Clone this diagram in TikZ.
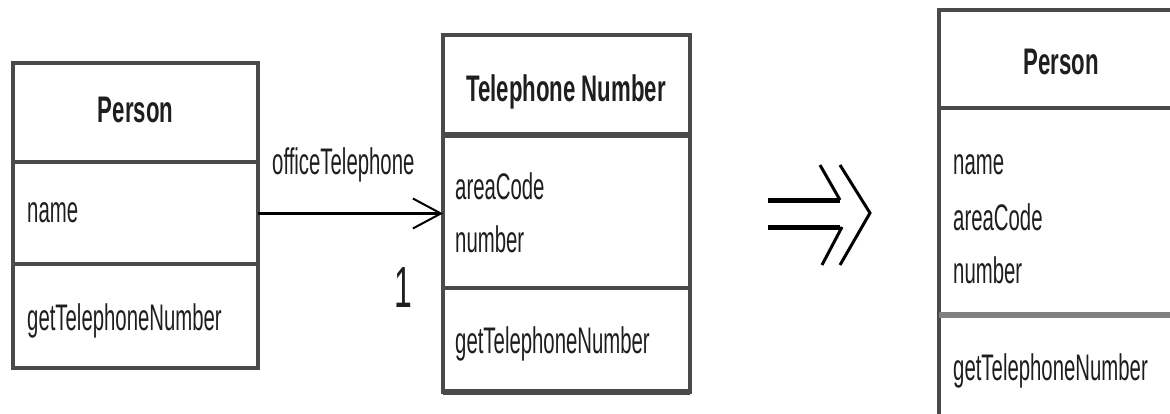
\documentclass[tikz,border=0pt]{standalone}
\usepackage{fontspec}
\setmainfont{Liberation Sans}[FakeStretch=0.55]
\newfontfamily\titlefont{Liberation Sans}[FakeStretch=0.6]
\usetikzlibrary{arrows.meta}
\definecolor{bordergray}{HTML}{4A4A4A}
\definecolor{txt}{HTML}{1E1E1E}
\begin{document}
\begin{tikzpicture}[x=1pt,y=-1pt,
  classbox/.style={draw=bordergray, line width=3.5pt, outer sep=0pt, inner sep=0pt},
  divider/.style={draw=bordergray, line width=3.5pt},
  thickdivider/.style={draw=bordergray, line width=5.5pt},
  member/.style={anchor=base west, inner sep=0pt, text=txt, font=\fontsize{37}{44}\selectfont},
  classtitle/.style={anchor=base, inner sep=0pt, text=txt, font=\fontsize{37}{44}\selectfont\titlefont\bfseries},
  assoc/.style={line width=3pt, black, -{Straight Barb[length=28pt,width=30pt,line width=2pt]}},
  implies/.style={line width=3pt, black}
]
\useasboundingbox (0,0) rectangle (1170,414);
\clip (0,0) rectangle (1170,414);

% Left Person class
\node[classbox, minimum width=245pt, minimum height=305pt] (p1) at (135.5,215.5) {};
\draw[divider] (p1.west |- 0,162) -- (p1.east |- 0,162);
\draw[divider] (p1.west |- 0,264) -- (p1.east |- 0,264);
\node[classtitle] (p1t) at (135.5,123) {Person};
\node[member] (p1a) at (27,223) {name};
\node[member] (p1m) at (27,330) {getTelephoneNumber};

% Telephone Number class
\node[classbox, minimum width=247pt, minimum height=357pt] (tn) at (566.5,213.5) {};
\draw[thickdivider] (tn.west |- 0,135) -- (tn.east |- 0,135);
\draw[divider] (tn.west |- 0,288) -- (tn.east |- 0,288);
\draw[thickdivider] (tn.south west) -- (tn.south east);
\node[classtitle] (tnt) at (566,102) {Telephone Number};
\node[member] (tna) at (455,200) {areaCode};
\node[member] (tnb) at (455,253) {number};
\node[member] (tnm) at (455,353) {getTelephoneNumber};

% Association
\draw[assoc] (p1.east |- tn.west) -- (tn.west);
\node[member] (role) at (272,175) {officeTelephone};
\node[inner sep=0pt, text=txt, font=\fontsize{58}{60}\selectfont] (mult) at (403,288) {1};

% Refactoring arrow
\draw[line width=5pt] (768,201) -- (840,201);
\draw[line width=5pt] (768,228) -- (840,228);
\draw[implies] (820,165) -- (840,200);
\draw[implies] (842,227) -- (822,265);
\draw[implies] (840,165) -- (870,213) -- (840,265);

% Right Person class (cut off at the right and bottom)
\node[classbox, minimum width=260pt, minimum height=430pt] (p2) at (1069,225) {};
\draw[divider] (p2.west |- 0,108) -- (p2.east |- 0,108);
\draw[thickdivider, draw=bordergray!70] (p2.west |- 0,315) -- (p2.east |- 0,315);
\node[classtitle] (p2t) at (1061,75) {Person};
\node[member] (p2a) at (953,175) {name};
\node[member] (p2b) at (953,230) {areaCode};
\node[member] (p2c) at (953,283) {number};
\node[member] (p2m) at (953,380) {getTelephoneNumber};
\end{tikzpicture}
\end{document}
